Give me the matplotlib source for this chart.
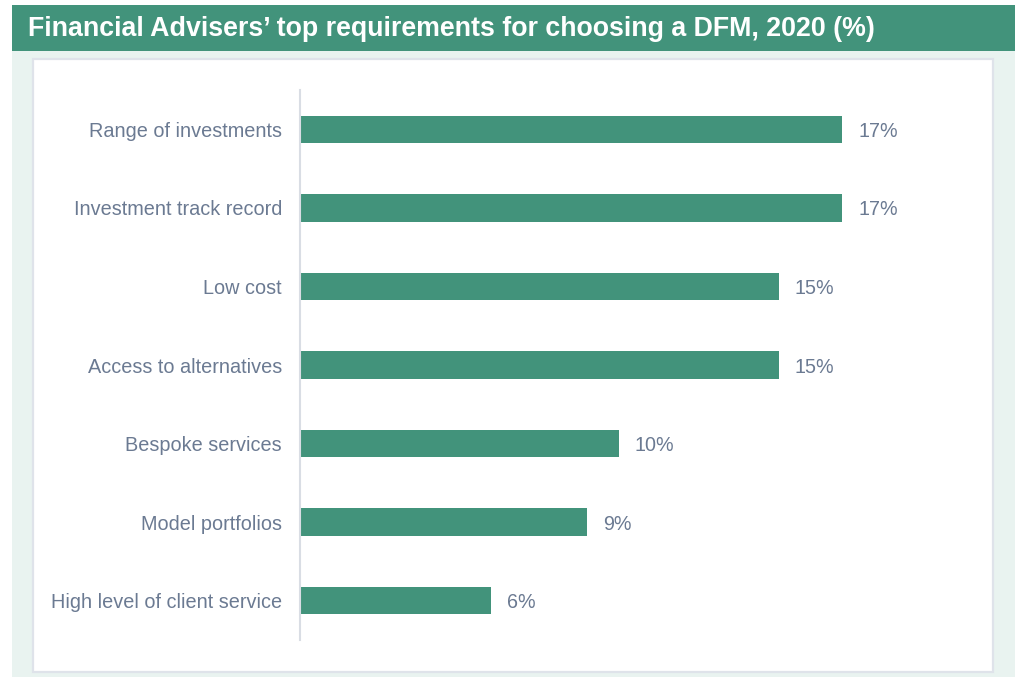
import matplotlib.pyplot as plt
from matplotlib.patches import Rectangle

categories = [
    "Range of investments",
    "Investment track record",
    "Low cost",
    "Access to alternatives",
    "Bespoke services",
    "Model portfolios",
    "High level of client service",
]
values = [17, 17, 15, 15, 10, 9, 6]
title = "Financial Advisers\u2019 top requirements for choosing a DFM, 2020 (%)"

GREEN = "#42937b"
TEXT = "#6b7a92"
W, H = 1022, 677


def px_rect(x0, y0, x1, y1, **kw):
    # rectangle given in pixel coords (origin top-left)
    return Rectangle((x0 / W, 1 - y1 / H), (x1 - x0) / W, (y1 - y0) / H,
                     transform=fig.transFigure, zorder=-10, **kw)


plt.rcParams["font.family"] = ["Liberation Sans", "DejaVu Sans"]

fig = plt.figure(figsize=(W / 100, H / 100), dpi=100)
fig.patch.set_facecolor("white")

# header band, tinted backdrop and white card
fig.patches.append(px_rect(12, 5, 1015, 50.5, facecolor=GREEN, edgecolor="none"))
fig.patches.append(px_rect(12, 50.5, 1015, 677, facecolor="#e9f3f0", edgecolor="none"))
fig.patches.append(px_rect(33, 59, 993, 672, facecolor="white",
                           edgecolor="#dfe3ea", linewidth=1.6))

fig.text(28 / W, 1 - 28.5 / H, title, color="white", fontsize=19.25,
         fontweight="bold", ha="left", va="center")

ax = fig.add_axes([300 / W, 1 - 640 / H, 638 / W, 550 / H])
ax.set_facecolor("none")
y = list(range(len(categories)))
bars = ax.barh(y, values, height=0.35, color=GREEN)
ax.set_xlim(0, 20)
ax.set_ylim(len(categories) - 0.5, -0.5)

for b, v in zip(bars, values):
    ax.annotate(f"{v}%", (b.get_width(), b.get_y() + b.get_height() / 2),
                xytext=(11.5, 0), textcoords="offset points",
                ha="left", va="center_baseline", fontsize=14.2, color=TEXT)

ax.set_yticks(y)
ax.set_yticklabels(categories, fontsize=14.3, color=TEXT, va="center_baseline")
ax.tick_params(axis="y", length=0, pad=13)
ax.set_xticks([])
for side in ["top", "right", "bottom"]:
    ax.spines[side].set_visible(False)
ax.spines["left"].set_color("#d9dde4")
ax.spines["left"].set_linewidth(1.5)

fig.savefig("out.png", dpi=100, facecolor=fig.get_facecolor())
